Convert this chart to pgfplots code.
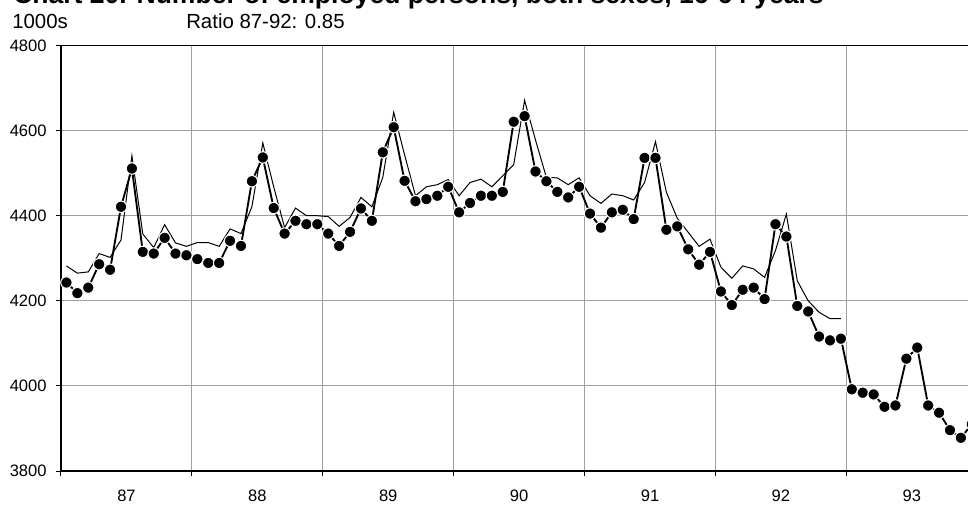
\documentclass[border=0pt]{standalone}
\usepackage{pgfplots}
\pgfplotsset{compat=1.18}
\usepackage{fontspec}
\setmainfont{Liberation Sans}

\pgfplotstableread{
x y
0.5 4243
1.5 4218
2.5 4231
3.5 4286
4.5 4273
5.5 4421
6.5 4511
7.5 4315
8.5 4311
9.5 4348
10.5 4311
11.5 4307
12.5 4298
13.5 4289
14.5 4289
15.5 4341
16.5 4329
17.5 4481
18.5 4537
19.5 4418
20.5 4358
21.5 4388
22.5 4380
23.5 4380
24.5 4358
25.5 4329
26.5 4362
27.5 4417
28.5 4388
29.5 4549
30.5 4608
31.5 4482
32.5 4434
33.5 4439
34.5 4447
35.5 4468
36.5 4408
37.5 4430
38.5 4447
39.5 4447
40.5 4456
41.5 4621
42.5 4634
43.5 4504
44.5 4481
45.5 4456
46.5 4443
47.5 4468
48.5 4405
49.5 4372
50.5 4408
51.5 4414
52.5 4392
53.5 4536
54.5 4536
55.5 4367
56.5 4375
57.5 4321
58.5 4285
59.5 4315
60.5 4222
61.5 4190
62.5 4226
63.5 4231
64.5 4204
65.5 4380
66.5 4351
67.5 4188
68.5 4175
69.5 4116
70.5 4107
71.5 4111
72.5 3992
73.5 3984
74.5 3980
75.5 3951
76.5 3954
77.5 4064
78.5 4090
79.5 3954
80.5 3937
81.5 3896
82.5 3878
83.5 3910
}\dots

\pgfplotstableread{
x y
0.5 4282
1.5 4265
2.5 4268
3.5 4311
4.5 4302
5.5 4343
6.5 4541
7.5 4357
8.5 4325
9.5 4379
10.5 4336
11.5 4328
12.5 4337
13.5 4337
14.5 4328
15.5 4369
16.5 4358
17.5 4421
18.5 4571
19.5 4468
20.5 4372
21.5 4418
22.5 4400
23.5 4400
24.5 4398
25.5 4375
26.5 4396
27.5 4443
28.5 4421
29.5 4490
30.5 4643
31.5 4543
32.5 4447
33.5 4468
34.5 4473
35.5 4485
36.5 4447
37.5 4478
38.5 4486
39.5 4468
40.5 4494
41.5 4520
42.5 4671
43.5 4578
44.5 4490
45.5 4489
46.5 4473
47.5 4489
48.5 4447
49.5 4429
50.5 4451
51.5 4447
52.5 4437
53.5 4478
54.5 4574
55.5 4455
56.5 4394
57.5 4361
58.5 4328
59.5 4345
60.5 4279
61.5 4253
62.5 4282
63.5 4275
64.5 4255
65.5 4318
66.5 4404
67.5 4247
68.5 4200
69.5 4173
70.5 4158
71.5 4158
}\thin

\begin{document}
\begin{tikzpicture}
\begin{axis}[
  at={(0pt,0pt)}, anchor=south west,
  scale only axis, width=687.2pt, height=319.1pt,
  xmin=0, xmax=84, ymin=3800, ymax=4800,
  axis line style={black, line width=0.9pt},
  xtick={0,12,...,72}, xticklabels={},
  extra x ticks={6,18,...,78},
  extra x tick labels={87,88,89,90,91,92,93},
  extra x tick style={grid=none, major tick length=0pt},
  ytick={3800,4000,...,4800},
  xmajorgrids, ymajorgrids,
  grid style={black!38, line width=0.75pt},
  tick pos=left, tick align=outside, major tick length=3.75pt,
  tick style={black, line width=0.75pt},
  tick label style={font=\fontsize{12.4pt}{14pt}\selectfont},
  /pgf/number format/assume math mode=true,
  /pgf/number format/set thousands separator={},
  yticklabel style={anchor=east, inner sep=0pt, xshift=-6.9pt},
  xticklabel style={anchor=north, inner sep=0pt, yshift=-14.2pt},
]
\addplot[black, line width=0.75pt, mark=none] table[x=x,y=y] {\thin};
\addplot[black, line width=1.4pt, mark=*, mark size=4.3pt,
  mark options={fill=black, draw=white, line width=0.8pt}] table[x=x,y=y] {\dots};
\end{axis}
\node[anchor=base west, inner sep=0pt, font=\fontsize{19.9pt}{24pt}\selectfont\bfseries]
  at (-36pt,350.25pt) {Chart 20. Number of employed persons, both sexes, 16-64 years};
\node[anchor=base west, inner sep=0pt, font=\fontsize{15.3pt}{18pt}\selectfont]
  at (-36.75pt,331.9pt) {1000s};
\node[anchor=base west, inner sep=0pt, font=\fontsize{15.3pt}{18pt}\selectfont]
  at (93.75pt,331.9pt) {Ratio 87-92: 0.85};
\pgfresetboundingbox
\path[use as bounding box] (-45.75pt,-24.75pt) rectangle (680.25pt,353.25pt);
\end{tikzpicture}
\end{document}
